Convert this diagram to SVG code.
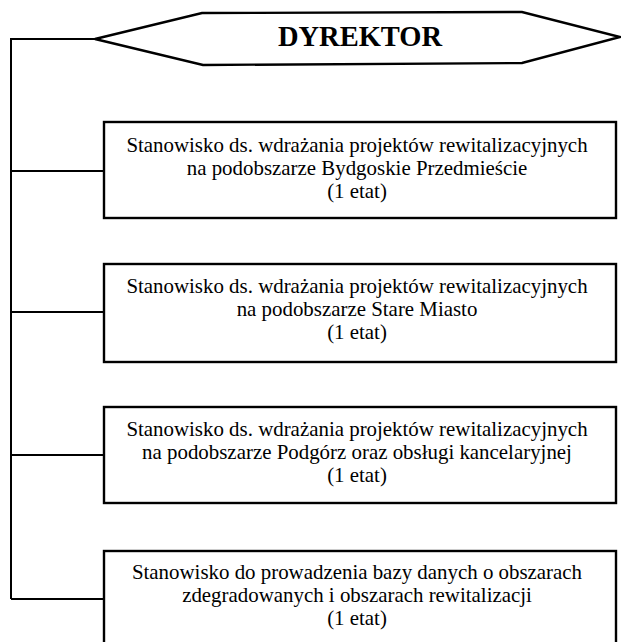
<svg xmlns="http://www.w3.org/2000/svg" width="621" height="642" viewBox="0 0 621 642">
<style>
.shape{fill:#fff;stroke:#000;stroke-width:2.4}
.conn{fill:none;stroke:#000;stroke-width:2}
.t{font-family:"Liberation Serif","Times New Roman",serif;font-size:20.9px;fill:#000;text-anchor:middle}
.h{font-family:"Liberation Serif","Times New Roman",serif;font-size:28.5px;font-weight:bold;fill:#000;text-anchor:middle}
</style>
<rect width="621" height="642" fill="#fff"/>
<g id="connectors">
<path class="conn" d="M95 39 H11 V599"/>
<path class="conn" d="M11 171 H104"/>
<path class="conn" d="M11 312 H104"/>
<path class="conn" d="M11 455 H104"/>
<path class="conn" d="M11 599 H104"/>
</g>
<g id="dyrektor">
<polygon class="shape" points="95,39 202,13 522,12 620,37 522,63 203,65"/>
<text class="h" x="360" y="46">DYREKTOR</text>
</g>
<g id="node1">
<rect class="shape" x="104" y="122" width="512" height="96"/>
<text class="t" x="357" y="152">Stanowisko ds. wdrażania projektów rewitalizacyjnych</text>
<text class="t" x="357" y="175">na podobszarze Bydgoskie Przedmieście</text>
<text class="t" x="357" y="198">(1 etat)</text>
</g>
<g id="node2">
<rect class="shape" x="104" y="264" width="512" height="98"/>
<text class="t" x="357" y="293">Stanowisko ds. wdrażania projektów rewitalizacyjnych</text>
<text class="t" x="357" y="316">na podobszarze Stare Miasto</text>
<text class="t" x="357" y="339">(1 etat)</text>
</g>
<g id="node3">
<rect class="shape" x="104" y="407" width="512" height="96"/>
<text class="t" x="357" y="436">Stanowisko ds. wdrażania projektów rewitalizacyjnych</text>
<text class="t" x="357" y="459">na podobszarze Podgórz oraz obsługi kancelaryjnej</text>
<text class="t" x="357" y="482">(1 etat)</text>
</g>
<g id="node4">
<rect class="shape" x="104" y="551" width="512" height="97"/>
<text class="t" x="357" y="579">Stanowisko do prowadzenia bazy danych o obszarach</text>
<text class="t" x="357" y="602">zdegradowanych i obszarach rewitalizacji</text>
<text class="t" x="357" y="625">(1 etat)</text>
</g>
</svg>
